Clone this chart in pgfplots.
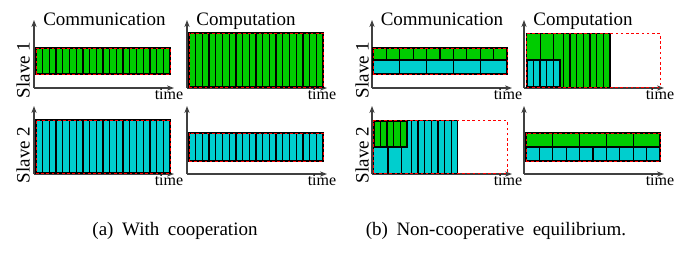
\documentclass[border=0pt]{standalone}
\usepackage{pgfplots}
\pgfplotsset{compat=1.18}
\usepackage{fontspec}
\setmainfont{Liberation Serif}
\usetikzlibrary{arrows.meta}
\definecolor{grn}{RGB}{0,204,0}
\definecolor{cyn}{RGB}{0,206,206}
\pgfplotsset{
  panel/.style={x=0.5pt,y=0.5pt,xmin=0,xmax=140,ymin=0,ymax=68,
    axis lines=left, ticks=none, clip=false, anchor=south west,
    axis line style={draw=black!75, line width=0.6pt, -{Stealth[length=3.5pt,width=2.6pt]}}},
  box/.style={draw=black, line width=0.6pt},
  sep/.style={draw=black, line width=0.65pt, unbounded coords=jump, mark=none},
  cap/.style={draw=red, line width=0.5pt, dash pattern=on 1.3pt off 1.3pt, mark=none},
}
\begin{document}
\begin{tikzpicture}
\useasboundingbox (0,0) rectangle (342pt,-126.5pt);
% ---------- (a) Slave 1, communication
\begin{axis}[panel, at={(17pt,-44pt)}]
\addplot[box, fill=grn] coordinates {(2,14) (136,14) (136,40) (2,40)} -- cycle;
\addplot[sep] coordinates {(8.7,14)(8.7,40)(8.7,nan) (15.4,14)(15.4,40)(15.4,nan) (22.1,14)(22.1,40)(22.1,nan) (28.8,14)(28.8,40)(28.8,nan) (35.5,14)(35.5,40)(35.5,nan) (42.2,14)(42.2,40)(42.2,nan) (48.9,14)(48.9,40)(48.9,nan) (55.6,14)(55.6,40)(55.6,nan) (62.3,14)(62.3,40)(62.3,nan) (69,14)(69,40)(69,nan) (75.7,14)(75.7,40)(75.7,nan) (82.4,14)(82.4,40)(82.4,nan) (89.1,14)(89.1,40)(89.1,nan) (95.8,14)(95.8,40)(95.8,nan) (102.5,14)(102.5,40)(102.5,nan) (109.2,14)(109.2,40)(109.2,nan) (115.9,14)(115.9,40)(115.9,nan) (122.6,14)(122.6,40)(122.6,nan) (129.3,14)(129.3,40)};
\addplot[cap] coordinates {(2,14) (136,14) (136,40) (2,40)} -- cycle;
\end{axis}
% ---------- (a) Slave 1, computation
\begin{axis}[panel, at={(93.5pt,-44pt)}]
\addplot[box, fill=grn] coordinates {(2,1) (136,1) (136,55) (2,55)} -- cycle;
\addplot[sep] coordinates {(8.7,1)(8.7,55)(8.7,nan) (15.4,1)(15.4,55)(15.4,nan) (22.1,1)(22.1,55)(22.1,nan) (28.8,1)(28.8,55)(28.8,nan) (35.5,1)(35.5,55)(35.5,nan) (42.2,1)(42.2,55)(42.2,nan) (48.9,1)(48.9,55)(48.9,nan) (55.6,1)(55.6,55)(55.6,nan) (62.3,1)(62.3,55)(62.3,nan) (69,1)(69,55)(69,nan) (75.7,1)(75.7,55)(75.7,nan) (82.4,1)(82.4,55)(82.4,nan) (89.1,1)(89.1,55)(89.1,nan) (95.8,1)(95.8,55)(95.8,nan) (102.5,1)(102.5,55)(102.5,nan) (109.2,1)(109.2,55)(109.2,nan) (115.9,1)(115.9,55)(115.9,nan) (122.6,1)(122.6,55)(122.6,nan) (129.3,1)(129.3,55)};
\addplot[cap] coordinates {(2,1) (136,1) (136,55) (2,55)} -- cycle;
\end{axis}
% ---------- (a) Slave 2, communication
\begin{axis}[panel, at={(17pt,-87pt)}]
\addplot[box, fill=cyn] coordinates {(2,1) (136,1) (136,54) (2,54)} -- cycle;
\addplot[sep] coordinates {(8.7,1)(8.7,54)(8.7,nan) (15.4,1)(15.4,54)(15.4,nan) (22.1,1)(22.1,54)(22.1,nan) (28.8,1)(28.8,54)(28.8,nan) (35.5,1)(35.5,54)(35.5,nan) (42.2,1)(42.2,54)(42.2,nan) (48.9,1)(48.9,54)(48.9,nan) (55.6,1)(55.6,54)(55.6,nan) (62.3,1)(62.3,54)(62.3,nan) (69,1)(69,54)(69,nan) (75.7,1)(75.7,54)(75.7,nan) (82.4,1)(82.4,54)(82.4,nan) (89.1,1)(89.1,54)(89.1,nan) (95.8,1)(95.8,54)(95.8,nan) (102.5,1)(102.5,54)(102.5,nan) (109.2,1)(109.2,54)(109.2,nan) (115.9,1)(115.9,54)(115.9,nan) (122.6,1)(122.6,54)(122.6,nan) (129.3,1)(129.3,54)};
\addplot[cap] coordinates {(2,1) (136,1) (136,54) (2,54)} -- cycle;
\end{axis}
% ---------- (a) Slave 2, computation
\begin{axis}[panel, at={(93.5pt,-87pt)}]
\addplot[box, fill=cyn] coordinates {(2,13) (136,13) (136,41) (2,41)} -- cycle;
\addplot[sep] coordinates {(8.7,13)(8.7,41)(8.7,nan) (15.4,13)(15.4,41)(15.4,nan) (22.1,13)(22.1,41)(22.1,nan) (28.8,13)(28.8,41)(28.8,nan) (35.5,13)(35.5,41)(35.5,nan) (42.2,13)(42.2,41)(42.2,nan) (48.9,13)(48.9,41)(48.9,nan) (55.6,13)(55.6,41)(55.6,nan) (62.3,13)(62.3,41)(62.3,nan) (69,13)(69,41)(69,nan) (75.7,13)(75.7,41)(75.7,nan) (82.4,13)(82.4,41)(82.4,nan) (89.1,13)(89.1,41)(89.1,nan) (95.8,13)(95.8,41)(95.8,nan) (102.5,13)(102.5,41)(102.5,nan) (109.2,13)(109.2,41)(109.2,nan) (115.9,13)(115.9,41)(115.9,nan) (122.6,13)(122.6,41)(122.6,nan) (129.3,13)(129.3,41)};
\addplot[cap] coordinates {(2,13) (136,13) (136,41) (2,41)} -- cycle;
\end{axis}
% ---------- (b) Slave 1, communication
\begin{axis}[panel, at={(186pt,-44pt)}]
\addplot[box, fill=cyn] coordinates {(1,14) (135,14) (135,28) (1,28)} -- cycle;
\addplot[box, fill=grn] coordinates {(1,28) (135,28) (135,40) (1,40)} -- cycle;
\addplot[sep] coordinates {(27.8,14)(27.8,28)(27.8,nan) (54.6,14)(54.6,28)(54.6,nan) (81.4,14)(81.4,28)(81.4,nan) (108.2,14)(108.2,28)};
\addplot[sep] coordinates {(14.4,28)(14.4,40)(14.4,nan) (27.8,28)(27.8,40)(27.8,nan) (41.2,28)(41.2,40)(41.2,nan) (54.6,28)(54.6,40)(54.6,nan) (68,28)(68,40)(68,nan) (81.4,28)(81.4,40)(81.4,nan) (94.8,28)(94.8,40)(94.8,nan) (108.2,28)(108.2,40)(108.2,nan) (121.6,28)(121.6,40)};
\addplot[cap] coordinates {(1,14) (135,14) (135,40) (1,40)} -- cycle;
\end{axis}
% ---------- (b) Slave 1, computation
\begin{axis}[panel, at={(262pt,-44pt)}]
\addplot[box, fill=grn] coordinates {(2.7,0.7) (86,0.7) (86,54.3) (2.7,54.3)} -- cycle;
\addplot[sep] coordinates {(16.7,0.7)(16.7,54.3)(16.7,nan) (29.3,0.7)(29.3,54.3)(29.3,nan) (39.3,0.7)(39.3,54.3)(39.3,nan) (46,0.7)(46,54.3)(46,nan) (52.7,0.7)(52.7,54.3)(52.7,nan) (59.3,0.7)(59.3,54.3)(59.3,nan) (66,0.7)(66,54.3)(66,nan) (72.7,0.7)(72.7,54.3)(72.7,nan) (79.3,0.7)(79.3,54.3)};
\addplot[box, line width=0.9pt, fill=cyn] coordinates {(2.7,0.7) (36,0.7) (36,27.7) (2.7,27.7)} -- cycle;
\addplot[sep] coordinates {(9.3,0.7)(9.3,27.7)(9.3,nan) (16,0.7)(16,27.7)(16,nan) (22.7,0.7)(22.7,27.7)(22.7,nan) (29.3,0.7)(29.3,27.7)};
\addplot[cap] coordinates {(2.7,0.7) (136,0.7) (136,54.3) (2.7,54.3)} -- cycle;
\end{axis}
% ---------- (b) Slave 2, communication
\begin{axis}[panel, at={(186pt,-87pt)}]
\addplot[box, fill=cyn] coordinates {(1.7,0.3) (85.3,0.3) (85.3,53.3) (1.7,53.3)} -- cycle;
\addplot[sep] coordinates {(16,0.3)(16,53.3)(16,nan) (29.3,0.3)(29.3,53.3)(29.3,nan) (39.3,0.3)(39.3,53.3)(39.3,nan) (46,0.3)(46,53.3)(46,nan) (52.7,0.3)(52.7,53.3)(52.7,nan) (59.3,0.3)(59.3,53.3)(59.3,nan) (66,0.3)(66,53.3)(66,nan) (72.7,0.3)(72.7,53.3)(72.7,nan) (79.3,0.3)(79.3,53.3)};
\addplot[box, line width=0.9pt, fill=grn] coordinates {(1.7,26.7) (35.3,26.7) (35.3,53.3) (1.7,53.3)} -- cycle;
\addplot[sep] coordinates {(8.3,26.7)(8.3,53.3)(8.3,nan) (15,26.7)(15,53.3)(15,nan) (21.7,26.7)(21.7,53.3)(21.7,nan) (28.3,26.7)(28.3,53.3)};
\addplot[cap] coordinates {(1.7,0.3) (135,0.3) (135,53.3) (1.7,53.3)} -- cycle;
\end{axis}
% ---------- (b) Slave 2, computation
\begin{axis}[panel, at={(262pt,-87pt)}]
\addplot[box, fill=cyn] coordinates {(2,13) (136,13) (136,27) (2,27)} -- cycle;
\addplot[box, fill=grn] coordinates {(2,27) (136,27) (136,41) (2,41)} -- cycle;
\addplot[sep] coordinates {(28.8,27)(28.8,41)(28.8,nan) (55.6,27)(55.6,41)(55.6,nan) (82.4,27)(82.4,41)(82.4,nan) (109.2,27)(109.2,41)};
\addplot[sep] coordinates {(15.4,13)(15.4,27)(15.4,nan) (28.8,13)(28.8,27)(28.8,nan) (42.2,13)(42.2,27)(42.2,nan) (55.6,13)(55.6,27)(55.6,nan) (69,13)(69,27)(69,nan) (82.4,13)(82.4,27)(82.4,nan) (95.8,13)(95.8,27)(95.8,nan) (109.2,13)(109.2,27)(109.2,nan) (122.6,13)(122.6,27)};
\addplot[cap] coordinates {(2,13) (136,13) (136,41) (2,41)} -- cycle;
\end{axis}
% ---------- texts
\begin{scope}[every node/.style={inner sep=0pt, font=\fontsize{9.5}{11}\selectfont}]
\node[anchor=base] at (52.25pt,-12.5pt) {Communication};
\node[anchor=base] at (123pt,-12.5pt) {Computation};
\node[anchor=base] at (221pt,-12.5pt) {Communication};
\node[anchor=base] at (291.5pt,-12.5pt) {Computation};
\node[anchor=base, rotate=90] at (14.75pt,-35pt) {Slave 1};
\node[anchor=base, rotate=90] at (14.75pt,-77.5pt) {Slave 2};
\node[anchor=base, rotate=90] at (184.25pt,-35pt) {Slave 1};
\node[anchor=base, rotate=90] at (184.25pt,-77.5pt) {Slave 2};
\end{scope}
\begin{scope}[every node/.style={inner sep=0pt, anchor=base, font=\fontsize{8}{9}\selectfont}]
\node at (84.5pt,-49.5pt) {time};
\node at (161pt,-49.5pt) {time};
\node at (84.5pt,-92.5pt) {time};
\node at (161pt,-92.5pt) {time};
\node at (254pt,-49.5pt) {time};
\node at (330pt,-49.5pt) {time};
\node at (254pt,-92.5pt) {time};
\node at (330pt,-92.5pt) {time};
\end{scope}
\begin{scope}[every node/.style={inner sep=0pt, anchor=base, font=\fontsize{9.5}{10}\selectfont}]
\node at (87.5pt,-117.5pt) {\spaceskip=0.45em\relax (a) With cooperation};
\node at (248pt,-117.5pt) {\spaceskip=0.45em\relax (b) Non-cooperative equilibrium.};
\end{scope}
\end{tikzpicture}
\end{document}
